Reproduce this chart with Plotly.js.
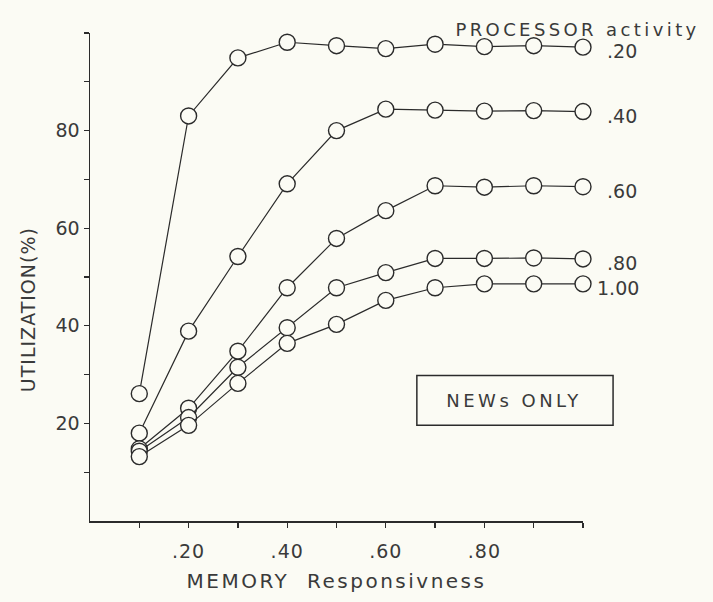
<!DOCTYPE html>
<html>
<head>
<meta charset="utf-8">
<script src="https://cdn.plot.ly/plotly-3.0.1.min.js"></script>
<style>
  html, body { margin: 0; padding: 0; background: #fbfbf4; }
  #chart { width: 713px; height: 602px; }
  .xtitle { letter-spacing: 2.5px; }
  .xtick text { letter-spacing: 1px; }
  g.annotation[data-index="0"] text { letter-spacing: 3.4px; }
  g.annotation[data-index="6"] text { letter-spacing: 3.5px; }
  g.annotation[data-index="7"] text { letter-spacing: 1px; }
</style>
</head>
<body>
<div id="chart"></div>
<script>
// ---- data ----
var memory = [0.1, 0.2, 0.3, 0.4, 0.5, 0.6, 0.7, 0.8, 0.9, 1.0];
var act20  = [26.1, 83.0, 94.9, 98.1, 97.4, 96.8, 97.7, 97.2, 97.4, 97.1];
var act40  = [18.0, 38.9, 54.2, 69.1, 80.0, 84.4, 84.2, 84.0, 84.1, 83.9];
var act60  = [14.8, 23.1, 34.8, 47.8, 57.9, 63.6, 68.7, 68.4, 68.7, 68.5];
var act80  = [14.3, 21.2, 31.5, 39.6, 47.8, 50.9, 53.8, 53.8, 53.9, 53.7];
var act100 = [13.2, 19.6, 28.2, 36.4, 40.3, 45.2, 47.8, 48.6, 48.6, 48.6];
var seriesLabels = ['.20', '.40', '.60', '.80', '1.00'];
var xTickVals = [0.1, 0.2, 0.3, 0.4, 0.5, 0.6, 0.7, 0.8, 0.9, 1.0];
var xTickText = ['', '.20', '', '.40', '', '.60', '', '.80', '', ''];
var yTickVals = [10, 20, 30, 40, 50, 60, 70, 80, 90, 100];
var yTickText = ['', '20', '', '40', '', '60', '', '80', '', ''];

var ink = '#2b2b2b';
var txt = '#3a3a3a';
var bg = '#fbfbf4';
var fontFam = 'DejaVu Sans, sans-serif';

var allSeries = [act20, act40, act60, act80, act100];
var traces = allSeries.map(function (vals, i) {
  return {
    x: memory,
    y: vals,
    type: 'scatter',
    mode: 'lines+markers',
    name: seriesLabels[i],
    line: { color: ink, width: 1.2 },
    marker: { symbol: 'circle', size: 16, color: bg, line: { color: ink, width: 1.4 } },
    cliponaxis: false,
    hoverinfo: 'x+y'
  };
});

var annotations = [{
  text: 'PROCESSOR activity', xref: 'paper', yref: 'paper', x: 1.0, y: 1.0,
  xanchor: 'center', yanchor: 'bottom', xshift: -6, yshift: -9, showarrow: false,
  font: { family: fontFam, size: 18, color: txt }
}];
var xShifts = [22, 22, 22, 22, 12];
allSeries.forEach(function (vals, i) {
  annotations.push({
    text: seriesLabels[i], xref: 'x', yref: 'y',
    x: memory[memory.length - 1], y: vals[vals.length - 1],
    xanchor: 'left', yanchor: 'middle', xshift: xShifts[i], yshift: -4,
    showarrow: false, font: { family: fontFam, size: 19, color: txt }
  });
});
annotations.push({
  text: 'NEWs ONLY', xref: 'paper', yref: 'paper', x: 0.862, y: 0.247,
  xanchor: 'center', yanchor: 'middle', showarrow: false,
  font: { family: fontFam, size: 18, color: txt }
});
// y-axis title placed as in the reference (below the plot centre)
annotations.push({
  text: 'UTILIZATION(%)', xref: 'paper', yref: 'paper', x: 0, y: 0.432,
  xanchor: 'center', yanchor: 'middle', xshift: -62, textangle: -90,
  showarrow: false, font: { family: fontFam, size: 19, color: txt }
});

var layout = {
  width: 713, height: 602,
  margin: { l: 90, r: 130, t: 33, b: 81 },
  paper_bgcolor: bg, plot_bgcolor: bg,
  showlegend: false,
  font: { family: fontFam, color: txt },
  xaxis: {
    range: [0, 1.0], showgrid: false, zeroline: false,
    showline: true, linecolor: ink, linewidth: 1.5,
    ticks: 'outside', ticklen: 5, tickwidth: 1.3, tickcolor: ink,
    tickmode: 'array', tickvals: xTickVals, ticktext: xTickText,
    ticklabelstandoff: 8,
    tickfont: { family: fontFam, size: 19, color: txt },
    title: { text: 'MEMORY  Responsivness', standoff: 12,
             font: { family: fontFam, size: 20, color: txt } }
  },
  yaxis: {
    range: [0, 100], showgrid: false, zeroline: false,
    showline: true, linecolor: ink, linewidth: 1.5,
    ticks: 'outside', ticklen: 5, tickwidth: 1.3, tickcolor: ink,
    tickmode: 'array', tickvals: yTickVals, ticktext: yTickText,
    tickfont: { family: fontFam, size: 19, color: txt }
  },
  shapes: [{
    type: 'rect', xref: 'paper', yref: 'paper',
    x0: 0.663, x1: 1.061, y0: 0.196, y1: 0.298,
    line: { color: ink, width: 1.5 }, fillcolor: 'rgba(0,0,0,0)'
  }],
  annotations: annotations
};

Plotly.newPlot('chart', traces, layout, { displayModeBar: false, staticPlot: true });
</script>
</body>
</html>
